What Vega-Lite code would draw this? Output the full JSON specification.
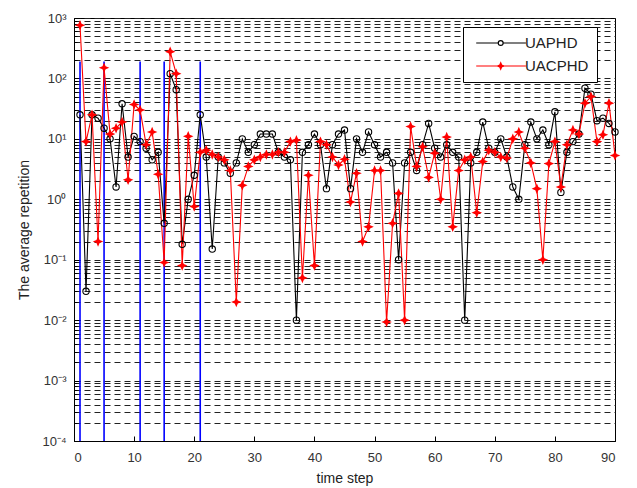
{
  "$schema": "https://vega.github.io/schema/vega-lite/v6.json",
  "width": 541,
  "height": 423,
  "autosize": "none",
  "padding": {"left": 74, "top": 18, "right": 22, "bottom": 47},
  "background": "white",
  "config": {
    "view": {"stroke": "black", "strokeWidth": 1},
    "font": "Liberation Sans",
    "axis": {"labelFont": "Liberation Sans", "titleFont": "Liberation Sans", "labelColor": "#333", "titleColor": "#222", "titleFontWeight": "normal", "labelFontSize": 13, "titleFontSize": 14}
  },
  "datasets": {
    "series": [
      {"x":1,"s":"UAPHD","v":25},{"x":2,"s":"UAPHD","v":0.03},{"x":3,"s":"UAPHD","v":25},{"x":4,"s":"UAPHD","v":22},{"x":5,"s":"UAPHD","v":15},
      {"x":6,"s":"UAPHD","v":10},{"x":7,"s":"UAPHD","v":1.6},{"x":8,"s":"UAPHD","v":38},{"x":9,"s":"UAPHD","v":5},{"x":10,"s":"UAPHD","v":11},
      {"x":11,"s":"UAPHD","v":9},{"x":12,"s":"UAPHD","v":7},{"x":13,"s":"UAPHD","v":4.5},{"x":14,"s":"UAPHD","v":6},{"x":15,"s":"UAPHD","v":0.4},
      {"x":16,"s":"UAPHD","v":120},{"x":17,"s":"UAPHD","v":65},{"x":18,"s":"UAPHD","v":0.18},{"x":19,"s":"UAPHD","v":1.0},{"x":20,"s":"UAPHD","v":2.5},
      {"x":21,"s":"UAPHD","v":25},{"x":22,"s":"UAPHD","v":5},{"x":23,"s":"UAPHD","v":0.15},{"x":24,"s":"UAPHD","v":5},{"x":25,"s":"UAPHD","v":4},
      {"x":26,"s":"UAPHD","v":2.7},{"x":27,"s":"UAPHD","v":4},{"x":28,"s":"UAPHD","v":10},{"x":29,"s":"UAPHD","v":6},{"x":30,"s":"UAPHD","v":8},
      {"x":31,"s":"UAPHD","v":12},{"x":32,"s":"UAPHD","v":12},{"x":33,"s":"UAPHD","v":12},{"x":34,"s":"UAPHD","v":6},{"x":35,"s":"UAPHD","v":5},
      {"x":36,"s":"UAPHD","v":4.5},{"x":37,"s":"UAPHD","v":0.01},{"x":38,"s":"UAPHD","v":6},{"x":39,"s":"UAPHD","v":8},{"x":40,"s":"UAPHD","v":12},
      {"x":41,"s":"UAPHD","v":8},{"x":42,"s":"UAPHD","v":1.5},{"x":43,"s":"UAPHD","v":8},{"x":44,"s":"UAPHD","v":12},{"x":45,"s":"UAPHD","v":14},
      {"x":46,"s":"UAPHD","v":1.5},{"x":47,"s":"UAPHD","v":10},{"x":48,"s":"UAPHD","v":6},{"x":49,"s":"UAPHD","v":13},{"x":50,"s":"UAPHD","v":8},
      {"x":51,"s":"UAPHD","v":5},{"x":52,"s":"UAPHD","v":6},{"x":53,"s":"UAPHD","v":4},{"x":54,"s":"UAPHD","v":0.1},{"x":55,"s":"UAPHD","v":4},
      {"x":56,"s":"UAPHD","v":6},{"x":57,"s":"UAPHD","v":3},{"x":58,"s":"UAPHD","v":8},{"x":59,"s":"UAPHD","v":18},{"x":60,"s":"UAPHD","v":7},
      {"x":61,"s":"UAPHD","v":5},{"x":62,"s":"UAPHD","v":8},{"x":63,"s":"UAPHD","v":6},{"x":64,"s":"UAPHD","v":5},{"x":65,"s":"UAPHD","v":0.01},
      {"x":66,"s":"UAPHD","v":4},{"x":67,"s":"UAPHD","v":6},{"x":68,"s":"UAPHD","v":19},{"x":69,"s":"UAPHD","v":7},{"x":70,"s":"UAPHD","v":6},
      {"x":71,"s":"UAPHD","v":10},{"x":72,"s":"UAPHD","v":5},{"x":73,"s":"UAPHD","v":1.6},{"x":74,"s":"UAPHD","v":1.0},{"x":75,"s":"UAPHD","v":8},
      {"x":76,"s":"UAPHD","v":19},{"x":77,"s":"UAPHD","v":10},{"x":78,"s":"UAPHD","v":14},{"x":79,"s":"UAPHD","v":8},{"x":80,"s":"UAPHD","v":28},
      {"x":81,"s":"UAPHD","v":1.3},{"x":82,"s":"UAPHD","v":6},{"x":83,"s":"UAPHD","v":9},{"x":84,"s":"UAPHD","v":12},{"x":85,"s":"UAPHD","v":69},
      {"x":86,"s":"UAPHD","v":55},{"x":87,"s":"UAPHD","v":20},{"x":88,"s":"UAPHD","v":22},{"x":89,"s":"UAPHD","v":18},{"x":90,"s":"UAPHD","v":13},
      {"x":1,"s":"UACPHD","v":760},{"x":2,"s":"UACPHD","v":9},{"x":3,"s":"UACPHD","v":25},{"x":4,"s":"UACPHD","v":0.2},{"x":5,"s":"UACPHD","v":150},
      {"x":6,"s":"UACPHD","v":12},{"x":7,"s":"UACPHD","v":15},{"x":8,"s":"UACPHD","v":19},{"x":9,"s":"UACPHD","v":2.1},{"x":10,"s":"UACPHD","v":37},
      {"x":11,"s":"UACPHD","v":30},{"x":12,"s":"UACPHD","v":8},{"x":13,"s":"UACPHD","v":13},{"x":14,"s":"UACPHD","v":2.6},{"x":15,"s":"UACPHD","v":0.09},
      {"x":16,"s":"UACPHD","v":277},{"x":17,"s":"UACPHD","v":120},{"x":18,"s":"UACPHD","v":0.08},{"x":19,"s":"UACPHD","v":11},{"x":20,"s":"UACPHD","v":0.76},
      {"x":21,"s":"UACPHD","v":6},{"x":22,"s":"UACPHD","v":6.5},{"x":23,"s":"UACPHD","v":5.5},{"x":24,"s":"UACPHD","v":5},{"x":25,"s":"UACPHD","v":4.5},
      {"x":26,"s":"UACPHD","v":3},{"x":27,"s":"UACPHD","v":0.02},{"x":28,"s":"UACPHD","v":1.7},{"x":29,"s":"UACPHD","v":3.5},{"x":30,"s":"UACPHD","v":4.5},
      {"x":31,"s":"UACPHD","v":5},{"x":32,"s":"UACPHD","v":5.5},{"x":33,"s":"UACPHD","v":5.5},{"x":34,"s":"UACPHD","v":6},{"x":35,"s":"UACPHD","v":6},
      {"x":36,"s":"UACPHD","v":9},{"x":37,"s":"UACPHD","v":9.5},{"x":38,"s":"UACPHD","v":0.05},{"x":39,"s":"UACPHD","v":2.5},{"x":40,"s":"UACPHD","v":0.08},
      {"x":41,"s":"UACPHD","v":9},{"x":42,"s":"UACPHD","v":8},{"x":43,"s":"UACPHD","v":5},{"x":44,"s":"UACPHD","v":3.7},{"x":45,"s":"UACPHD","v":4.6},
      {"x":46,"s":"UACPHD","v":0.9},{"x":47,"s":"UACPHD","v":2.7},{"x":48,"s":"UACPHD","v":0.2},{"x":49,"s":"UACPHD","v":0.35},{"x":50,"s":"UACPHD","v":3},
      {"x":51,"s":"UACPHD","v":3},{"x":52,"s":"UACPHD","v":0.0093},{"x":53,"s":"UACPHD","v":0.4},{"x":54,"s":"UACPHD","v":1.25},{"x":55,"s":"UACPHD","v":0.01},
      {"x":56,"s":"UACPHD","v":16},{"x":57,"s":"UACPHD","v":3.5},{"x":58,"s":"UACPHD","v":7.4},{"x":59,"s":"UACPHD","v":2.3},{"x":60,"s":"UACPHD","v":5.8},
      {"x":61,"s":"UACPHD","v":1.0},{"x":62,"s":"UACPHD","v":10.7},{"x":63,"s":"UACPHD","v":0.35},{"x":64,"s":"UACPHD","v":3},{"x":65,"s":"UACPHD","v":4.5},
      {"x":66,"s":"UACPHD","v":5},{"x":67,"s":"UACPHD","v":0.6},{"x":68,"s":"UACPHD","v":4.2},{"x":69,"s":"UACPHD","v":6.5},{"x":70,"s":"UACPHD","v":6},
      {"x":71,"s":"UACPHD","v":5},{"x":72,"s":"UACPHD","v":4.8},{"x":73,"s":"UACPHD","v":10},{"x":74,"s":"UACPHD","v":13},{"x":75,"s":"UACPHD","v":7},
      {"x":76,"s":"UACPHD","v":4},{"x":77,"s":"UACPHD","v":1.5},{"x":78,"s":"UACPHD","v":0.1},{"x":79,"s":"UACPHD","v":3.9},{"x":80,"s":"UACPHD","v":9},
      {"x":81,"s":"UACPHD","v":1.6},{"x":82,"s":"UACPHD","v":8},{"x":83,"s":"UACPHD","v":14},{"x":84,"s":"UACPHD","v":12},{"x":85,"s":"UACPHD","v":39},
      {"x":86,"s":"UACPHD","v":50},{"x":87,"s":"UACPHD","v":9},{"x":88,"s":"UACPHD","v":11.7},{"x":89,"s":"UACPHD","v":39},{"x":90,"s":"UACPHD","v":5.3}
    ],
    "blue": [
      {"x":1,"lo":0.0001,"hi":190},{"x":5,"lo":0.0001,"hi":190},{"x":11,"lo":0.0001,"hi":190},{"x":15,"lo":0.0001,"hi":190},{"x":21,"lo":0.0001,"hi":190}
    ]
  },
  "layer": [
    {
      "data": {"name": "blue"},
      "mark": {"type": "rule", "color": "#0000ff", "strokeWidth": 1.6},
      "encoding": {
        "x": {"field": "x", "type": "quantitative", "scale": {"domain": [0, 90], "nice": false, "zero": false},
          "axis": {"values": [0,10,20,30,40,50,60,70,80,90], "title": "time step", "grid": false, "tickSize": -5, "tickColor": "black", "domainColor": "black", "labelPadding": 15, "titlePadding": 7}},
        "y": {"field": "lo", "type": "quantitative", "scale": {"type": "log", "domain": [0.0001, 1000], "nice": false},
          "axis": {
            "title": "The average repetition",
            "values": [0.0001,0.0002,0.0003,0.0004,0.0005,0.0006,0.0007,0.0008,0.0009,0.001,0.002,0.003,0.004,0.005,0.006,0.007,0.008,0.009,0.01,0.02,0.03,0.04,0.05,0.06,0.07,0.08,0.09,0.1,0.2,0.3,0.4,0.5,0.6,0.7,0.8,0.9,1,2,3,4,5,6,7,8,9,10,20,30,40,50,60,70,80,90,100,200,300,400,500,600,700,800,900,1000],
            "grid": true, "gridDash": [6, 4], "gridColor": "#222", "gridWidth": 1.1,
            "domainColor": "black", "tickColor": "black",
            "tickSize": {"condition": {"test": "abs(log(datum.value)/LN10 - round(log(datum.value)/LN10)) < 0.01", "value": -6}, "value": -3},
            "labelPadding": 14, "titlePadding": 10,
            "labelExpr": "abs(log(datum.value)/LN10 - round(log(datum.value)/LN10)) > 0.01 ? '' : datum.value >= 500 ? '10³' : datum.value >= 50 ? '10²' : datum.value >= 5 ? '10¹' : datum.value >= 0.5 ? '10⁰' : datum.value >= 0.05 ? '10⁻¹' : datum.value >= 0.005 ? '10⁻²' : datum.value >= 0.0005 ? '10⁻³' : '10⁻⁴'"
          }},
        "y2": {"field": "hi"}
      }
    },
    {
      "data": {"name": "series"},
      "mark": {"type": "line", "strokeWidth": 1.1},
      "encoding": {
        "x": {"field": "x", "type": "quantitative"},
        "y": {"field": "v", "type": "quantitative"},
        "color": {"field": "s", "type": "nominal", "scale": {"domain": ["UAPHD", "UACPHD"], "range": ["black", "#ff0000"]},
          "legend": {
            "orient": "none", "legendX": 389, "legendY": 9, "title": null,
            "strokeColor": "black", "fillColor": "white", "padding": 8,
            "labelFont": "Liberation Sans", "labelFontSize": 15, "labelColor": "#222", "labelOffset": 38,
            "symbolSize": 196, "rowPadding": 7, "symbolStrokeWidth": 1.2,
            "encode": {"symbols": {"update": {
              "shape": {"signal": "datum.value === 'UAPHD' ? 'M-0.4,0L2.75,0M3.45,0L6.7,0M2.75,0A0.35,0.35 0 1,0 3.45,0A0.35,0.35 0 1,0 2.75,0' : 'M-0.4,0L6.7,0M3.1,-0.45L3.23,-0.13L3.55,0L3.23,0.13L3.1,0.45L2.97,0.13L2.65,0L2.97,-0.13Z'"},
              "fill": {"signal": "datum.value === 'UAPHD' ? 'transparent' : '#ff0000'"},
              "fillOpacity": {"value": 1}
            }}}
          }}
      }
    },
    {
      "data": {"name": "series"},
      "transform": [{"filter": "datum.s === 'UAPHD'"}],
      "mark": {"type": "point", "shape": "circle", "filled": false, "color": "black", "size": 40, "strokeWidth": 1.1, "opacity": 1},
      "encoding": {
        "x": {"field": "x", "type": "quantitative"},
        "y": {"field": "v", "type": "quantitative"}
      }
    },
    {
      "data": {"name": "series"},
      "transform": [{"filter": "datum.s === 'UACPHD'"}],
      "mark": {"type": "point", "shape": "M0,-1L0.3,-0.3L1,0L0.3,0.3L0,1L-0.3,0.3L-1,0L-0.3,-0.3Z", "filled": true, "color": "#ff0000", "size": 110, "opacity": 1},
      "encoding": {
        "x": {"field": "x", "type": "quantitative"},
        "y": {"field": "v", "type": "quantitative"}
      }
    }
  ]
}
